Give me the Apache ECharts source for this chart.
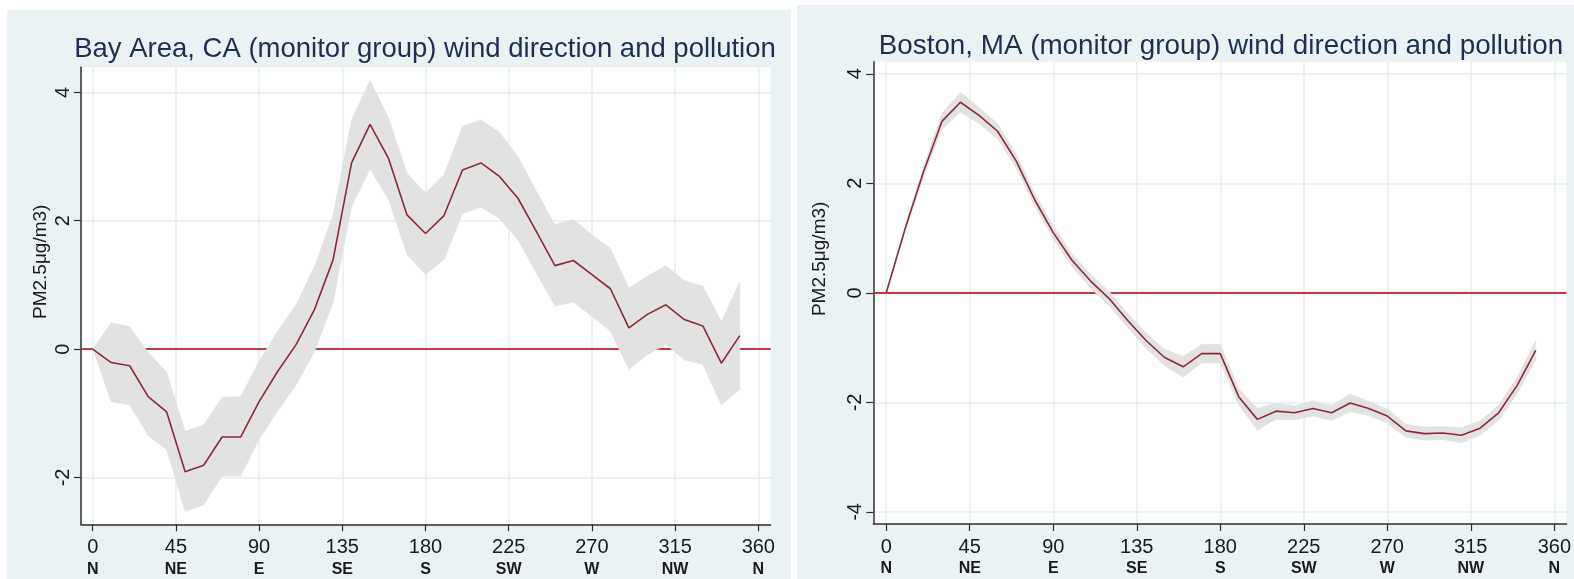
<!DOCTYPE html>
<html>
<head>
<meta charset="utf-8">
<script src="https://cdn.jsdelivr.net/npm/echarts@6/dist/echarts.min.js"></script>
<style>
html, body { margin: 0; padding: 0; background: #fff; }
#wrap { position: relative; width: 1574px; height: 579px; overflow: hidden; }
.panel { position: absolute; background: #eaf2f3; }
#chart { position: absolute; left: 0; top: 0; width: 1574px; height: 579px; }
</style>
</head>
<body>
<div id="wrap">
  <div class="panel" style="left:7px;top:10px;width:784px;height:569px;"></div>
  <div class="panel" style="left:797px;top:5px;width:777px;height:574px;"></div>
  <div id="chart"></div>
</div>
<script>
// wind direction bins (degrees)
var angles = [0, 10, 20, 30, 40, 50, 60, 70, 80, 90, 100, 110, 120, 130, 140, 150, 160, 170,
  180, 190, 200, 210, 220, 230, 240, 250, 260, 270, 280, 290, 300, 310, 320, 330, 340, 350];

// Bay Area
var bayMean = [0, -0.21, -0.26, -0.74, -0.98, -1.91, -1.81, -1.37, -1.37, -0.82, -0.35, 0.07, 0.62, 1.39, 2.90, 3.50, 2.97, 2.09,
  1.80, 2.08, 2.79, 2.90, 2.69, 2.35, 1.83, 1.30, 1.38, 1.16, 0.94, 0.33, 0.54, 0.69, 0.46, 0.36, -0.22, 0.21];
var bayUpper = [0, 0.41, 0.35, -0.05, -0.36, -1.28, -1.18, -0.75, -0.74, -0.19, 0.28, 0.69, 1.29, 2.09, 3.57, 4.19, 3.60, 2.74,
  2.43, 2.72, 3.47, 3.57, 3.38, 3.00, 2.46, 1.94, 2.02, 1.78, 1.57, 0.95, 1.14, 1.30, 1.07, 0.98, 0.43, 1.05];
var bayLower = [0, -0.82, -0.87, -1.35, -1.57, -2.53, -2.43, -1.98, -1.98, -1.41, -0.97, -0.56, -0.04, 0.72, 2.22, 2.80, 2.33, 1.47,
  1.16, 1.39, 2.11, 2.21, 2.03, 1.70, 1.18, 0.67, 0.73, 0.51, 0.28, -0.32, -0.09, 0.07, -0.17, -0.24, -0.87, -0.63];

// Boston
var bosMean = [0, 1.15, 2.20, 3.13, 3.48, 3.24, 2.95, 2.41, 1.70, 1.10, 0.60, 0.22, -0.10, -0.50, -0.87, -1.18, -1.35, -1.11,
  -1.11, -1.90, -2.31, -2.16, -2.19, -2.11, -2.19, -2.01, -2.11, -2.25, -2.52, -2.57, -2.56, -2.60, -2.47, -2.19, -1.69, -1.05];
var bosUpper = [0, 1.21, 2.30, 3.28, 3.66, 3.39, 3.09, 2.54, 1.82, 1.22, 0.72, 0.35, 0.03, -0.37, -0.73, -1.03, -1.16, -0.94,
  -0.94, -1.75, -2.11, -2.01, -2.06, -1.97, -2.05, -1.85, -1.98, -2.12, -2.40, -2.45, -2.44, -2.46, -2.34, -2.05, -1.54, -0.87];
var bosLower = [0, 1.09, 2.10, 2.98, 3.30, 3.09, 2.81, 2.28, 1.58, 0.98, 0.48, 0.09, -0.23, -0.63, -1.01, -1.33, -1.54, -1.28,
  -1.28, -2.05, -2.51, -2.31, -2.32, -2.25, -2.33, -2.17, -2.24, -2.38, -2.64, -2.69, -2.68, -2.74, -2.60, -2.33, -1.84, -1.23];

// axis ticks
var tickDeg = [0, 45, 90, 135, 180, 225, 270, 315, 360];
var tickDir = ["N", "NE", "E", "SE", "S", "SW", "W", "NW", "N"];
var bayTicks = [-2, 0, 2, 4];
var bosTicks = [-4, -2, 0, 2, 4];

var titles = [
  "Bay Area, CA (monitor group) wind direction and pollution",
  "Boston, MA (monitor group) wind direction and pollution"
];
var yName = "PM2.5μg/m3)";

var FONT = "'Liberation Sans', Arial, Helvetica, sans-serif";
var AXIS_COLOR = "#2e2e2e";
var GRID_COLOR = "#e6eff1";

function pairs(ys) {
  return angles.map(function (a, i) { return [a, ys[i]]; });
}

function makeX(idx, min, max) {
  return {
    gridIndex: idx,
    type: "value",
    min: min,
    max: max,
    axisLine: { show: true, onZero: false, lineStyle: { color: AXIS_COLOR, width: 1.5 } },
    axisTick: { show: true, length: 7, customValues: tickDeg, lineStyle: { color: AXIS_COLOR, width: 1.2 } },
    axisLabel: {
      customValues: tickDeg,
      margin: 12,
      color: "#1a1a1a",
      fontFamily: FONT,
      formatter: function (v) {
        return "{n|" + v + "}\n{d|" + tickDir[tickDeg.indexOf(v)] + "}";
      },
      rich: {
        n: { fontSize: 20, lineHeight: 22, fontFamily: FONT, color: "#1a1a1a" },
        d: { fontSize: 16, lineHeight: 22, fontWeight: "bold", fontFamily: FONT, color: "#1a1a1a" }
      }
    },
    splitLine: { show: true, lineStyle: { color: GRID_COLOR, width: 1.5 } }
  };
}

function makeY(idx, min, max, ticks, gap) {
  return {
    gridIndex: idx,
    type: "value",
    min: min,
    max: max,
    axisLine: { show: true, onZero: false, lineStyle: { color: AXIS_COLOR, width: 1.5 } },
    axisTick: { show: true, length: 7, customValues: ticks, lineStyle: { color: AXIS_COLOR, width: 1.2 } },
    axisLabel: { customValues: ticks, rotate: 90, margin: 8, fontSize: 20, color: "#1a1a1a", fontFamily: FONT },
    splitLine: { show: true, lineStyle: { color: GRID_COLOR, width: 1.5 } },
    name: yName,
    nameLocation: "middle",
    nameGap: gap,
    nameTextStyle: { fontSize: 19, color: "#1a1a1a", fontFamily: FONT, padding: [0, 0, 0, 68] }
  };
}

// confidence band drawn as one polygon through the axis scales
function makeBand(idx, upper, lower) {
  return {
    type: "custom",
    xAxisIndex: idx,
    yAxisIndex: idx,
    silent: true,
    clip: true,
    z: 2,
    data: [[angles[0], lower[0]]],
    encode: { x: 0, y: 1 },
    renderItem: function (params, api) {
      var pts = [];
      for (var i = 0; i < angles.length; i++) {
        pts.push(api.coord([angles[i], upper[i]]));
      }
      for (var j = angles.length - 1; j >= 0; j--) {
        pts.push(api.coord([angles[j], lower[j]]));
      }
      return {
        type: "polygon",
        shape: { points: pts },
        style: { fill: "#e2e2e2", stroke: "#e2e2e2", lineWidth: 0.5 }
      };
    },
    markLine: {
      silent: true,
      symbol: ["none", "none"],
      label: { show: false },
      z: 1,
      lineStyle: { color: "#c0384c", width: 2.2, type: "solid" },
      data: [{ yAxis: 0 }]
    }
  };
}

function makeMean(idx, mean) {
  return {
    type: "line",
    xAxisIndex: idx,
    yAxisIndex: idx,
    data: pairs(mean),
    symbol: "none",
    silent: true,
    lineStyle: { color: "#8c2b38", width: 1.6 },
    z: 3
  };
}

var chart = echarts.init(document.getElementById("chart"));
var option = {
  backgroundColor: "transparent",
  animation: false,
  title: [
    {
      text: titles[0], left: 425, top: 35, textAlign: "center", padding: 0,
      textStyle: { fontSize: 27.5, fontWeight: "normal", color: "#1f2f4f", fontFamily: FONT }
    },
    {
      text: titles[1], left: 1221, top: 32, textAlign: "center", padding: 0,
      textStyle: { fontSize: 27.8, fontWeight: "normal", color: "#1f2f4f", fontFamily: FONT }
    }
  ],
  grid: [
    { left: 81, top: 67.3, width: 689.7, height: 457, show: true, backgroundColor: "#fff", borderWidth: 0 },
    { left: 873.3, top: 61.7, width: 696.7, height: 462.3, show: true, backgroundColor: "#fff", borderWidth: 0 }
  ],
  xAxis: [makeX(0, -6.33, 366.7), makeX(1, -6.97, 366.6)],
  yAxis: [makeY(0, -2.73, 4.39, bayTicks, 31), makeY(1, -4.22, 4.22, bosTicks, 44)],
  series: [
    makeBand(0, bayUpper, bayLower),
    makeMean(0, bayMean),
    makeBand(1, bosUpper, bosLower),
    makeMean(1, bosMean)
  ]
};
chart.setOption(option);
</script>
</body>
</html>
